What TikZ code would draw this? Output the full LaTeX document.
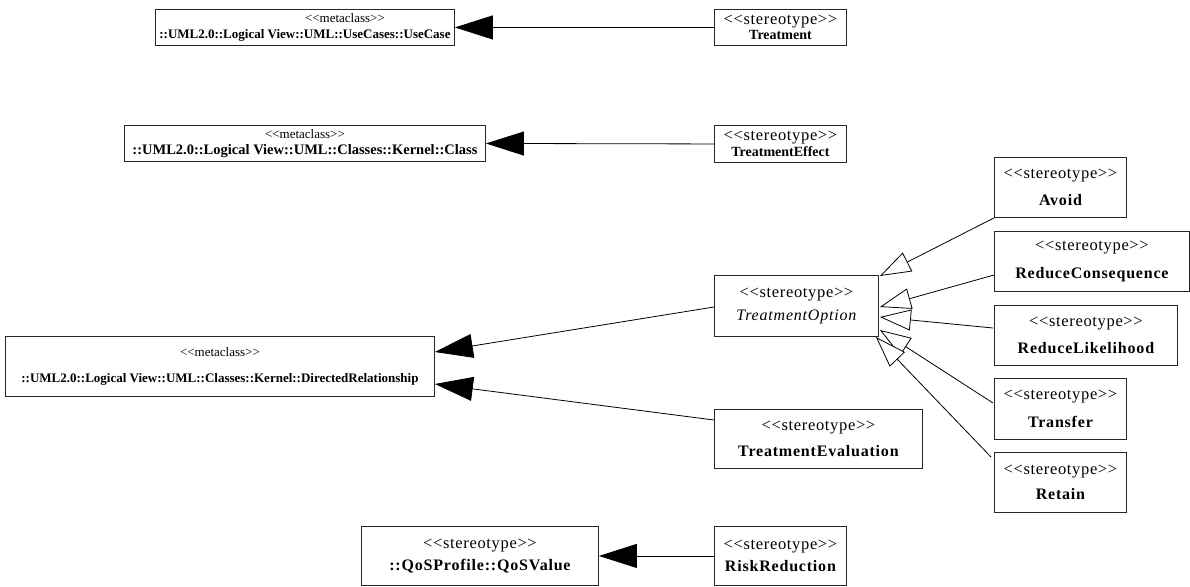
\documentclass[tikz,border=0pt]{standalone}
\usepackage{fontspec}
\setmainfont{Liberation Serif}
\newfontfamily\stfont[LetterSpace=4]{Liberation Serif}
\newfontfamily\nmfont[LetterSpace=5]{Liberation Serif}
\usetikzlibrary{arrows.meta,calc}
\newcommand\stlab[1]{{\stfont\fontsize{16.5}{18}\selectfont <{}<#1>{}>}}
\newcommand\mclab[1]{{\fontsize{13}{15}\selectfont <{}<#1>{}>}}
\newcommand\nmlab[2][14]{{\fontsize{#1}{15}\selectfont\bfseries #2}}
\newcommand\bglab[1]{{\nmfont\fontsize{16}{18}\selectfont\bfseries #1}}
\newcommand\itlab[1]{{\nmfont\fontsize{16}{18}\selectfont\itshape #1}}
\begin{document}
\begin{tikzpicture}[x=1pt,y=-1pt,
  box/.style={draw=black!85, line width=0.9pt, fill=white, anchor=north west, inner sep=0pt, align=center},
  assoc/.style={line width=0.8pt, -{Triangle[length=38pt,width=24pt]}},
  gen/.style={line width=0.8pt, -{Triangle[open,length=31pt,width=21pt,fill=white]}}]
\useasboundingbox (0,0) rectangle (1190,586);

% top row
\node[box, minimum width=299pt, minimum height=36pt] (uc) at (155,9)
  {\hspace*{80pt}\mclab{metaclass}\\[4pt]\nmlab[13]{::UML2.0::Logical View::UML::UseCases::UseCase}};
\node[box, minimum width=132pt, minimum height=36pt] (treat) at (714,9)
  {\stlab{stereotype}\\[2pt]\nmlab{Treatment}};

\node[box, minimum width=361pt, minimum height=36pt] (cls) at (124,125)
  {\mclab{metaclass}\\[4pt]\nmlab[14.5]{::UML2.0::Logical View::UML::Classes::Kernel::Class}};
\node[box, minimum width=132pt, minimum height=37pt] (teff) at (714,125)
  {\stlab{stereotype}\\[2pt]\nmlab{TreatmentEffect}};

% right stack
\node[box, minimum width=132pt, minimum height=60pt] (avoid) at (994,157)
  {\stlab{stereotype}\\[12pt]\bglab{Avoid}};
\node[box, minimum width=195pt, minimum height=60pt] (rc) at (994,231)
  {\stlab{stereotype}\\[12pt]\bglab{ReduceConsequence}};
\node[box, minimum width=183pt, minimum height=60pt] (rl) at (994,305)
  {\stlab{stereotype}\\[12pt]\bglab{ReduceLikelihood}};
\node[box, minimum width=132pt, minimum height=61pt] (transfer) at (994,378)
  {\stlab{stereotype}\\[12pt]\bglab{Transfer}};
\node[box, minimum width=132pt, minimum height=60pt] (retain) at (994,452)
  {\stlab{stereotype}\\[10pt]\bglab{Retain}};

% middle
\node[box, minimum width=164pt, minimum height=61pt] (topt) at (714,275)
  {\stlab{stereotype}\\[8pt]\itlab{TreatmentOption}};
\node[box, minimum width=208pt, minimum height=59pt] (teval) at (714,409)
  {\stlab{stereotype}\\[10pt]\bglab{TreatmentEvaluation}};
\node[box, minimum width=429pt, minimum height=60pt] (dr) at (5,336)
  {\mclab{metaclass}\\[14pt]\nmlab[13]{::UML2.0::Logical View::UML::Classes::Kernel::DirectedRelationship}};

% bottom
\node[box, minimum width=237pt, minimum height=59pt] (qos) at (361,526)
  {\stlab{stereotype}\\[6pt]\bglab{::QoSProfile::QoSValue}};
\node[box, minimum width=132pt, minimum height=59pt] (rr) at (714,526)
  {\stlab{stereotype}\\[6pt]\bglab{RiskReduction}};

% associations / extensions
\draw[assoc] (treat.west) -- (uc.east);
\draw[assoc] (teff.west) -- (cls.east);
\draw[assoc] (rr.west) -- (qos.east);
\draw[assoc] ($(topt.north west)+(0,32)$) -- ($(dr.north east)+(0,16)$);
\draw[assoc] ($(teval.north west)+(0,11)$) -- ($(dr.north east)+(0,48)$);

% generalizations
\draw[gen] (avoid.south west) -- ($(topt.north east)+(1,1)$);
\draw[gen] ($(rc.north west)+(0,44)$) -- ($(topt.north east)+(1,32)$);
\draw[gen] ($(rl.north west)+(-1,23)$) -- ($(topt.north east)+(1,42)$);
\draw[gen] ($(transfer.north west)+(-1,25)$) -- ($(topt.north east)+(1,55)$);
\draw[gen] ($(retain.north west)+(-3,5)$) -- ($(topt.north east)+(-3,62)$);
\end{tikzpicture}
\end{document}
